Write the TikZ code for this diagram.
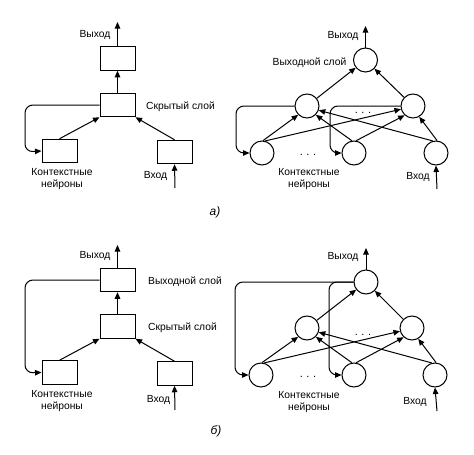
\documentclass[tikz,border=0pt]{standalone}
\usepackage{fontspec}
\setmainfont{Liberation Sans}
\usetikzlibrary{arrows.meta}
\begin{document}
\begin{tikzpicture}[x=1pt,y=-1pt,
  every node/.style={font=\fontsize{10.3}{12}\selectfont},
  box/.style={draw, line width=1pt, minimum width=35pt, minimum height=23.5pt, inner sep=0pt},
  neuron/.style={draw, circle, line width=1pt, minimum size=24pt, inner sep=0pt},
  conn/.style={line width=1pt, -{Triangle[length=6.5pt,width=5.5pt]}},
  fb/.style={conn, rounded corners=8pt},
  lbl/.style={inner sep=0pt, align=center},
  dots/.style={inner sep=0pt, font=\fontsize{11}{12}\selectfont}
]
\useasboundingbox (0,0) rectangle (474,455);

% ---------------- (a) left ----------------
\node[box] (outA) at (117.5,58.5) {};
\node[box] (hidA) at (117.5,105) {};
\node[box] (ctxA) at (59.5,151) {};
\node[box] (inA) at (174.5,152) {};
\coordinate (outAe) at (117.5,22);
\coordinate (inAs) at (175,188);
\draw[conn] (outA.north) -- (outAe);
\draw[conn] (hidA.north) -- (outA.south);
\draw[conn] (ctxA.north) -- (hidA.south west);
\draw[conn] (inA.north) -- (hidA.south east);
\draw[conn] (inAs) -- (inA.south);
\draw[fb] (hidA.west) -- (25,105) -- (25,152) -- (ctxA.west);
\node[lbl] (tOutA) at (95,35) {Выход};
\node[lbl, anchor=west] (tHidA) at (146,107) {Скрытый слой};
\node[lbl] (tCtxA) at (62,179) {Контекстные\\нейроны};
\node[lbl] (tInA) at (155.5,176) {Вход};

% ---------------- (a) right ----------------
\node[neuron] (oR) at (365.5,60) {};
\node[neuron] (hL) at (307,106) {};
\node[neuron] (hR) at (413,106) {};
\node[neuron] (bL) at (262,153) {};
\node[neuron] (bM) at (354,153) {};
\node[neuron] (bR) at (436,153) {};
\coordinate (oRe) at (365.5,26);
\coordinate (bRs) at (437,189);
\draw[conn] (oR.north) -- (oRe);
\draw[conn] (hL) -- (oR);
\draw[conn] (hR) -- (oR);
\draw[conn] (bL.85) -- (hL.225);
\draw[conn] (bL.75) -- (hR.195);
\draw[conn] (bM.100) -- (hL.-45);
\draw[conn] (bM.80) -- (hR.228);
\draw[conn] (bR.105) -- (hL.-20);
\draw[conn] (bR.85) -- (hR.-60);
\draw[conn] (bRs) -- (bR.south);
\draw[fb] (hL.west) -- (236,106) -- (236,153) -- (bL.west);
\draw[fb] (hR.west) -- (330,106) -- (330,153) -- (bM.west);
\node[dots] (d1) at (363,113) {.\,\,.\,\,.};
\node[dots] (d2) at (308,155) {.\,\,.\,\,.};
\node[lbl] (tOutR) at (343,36) {Выход};
\node[lbl] (tOL) at (309.5,63) {Выходной слой};
\node[lbl] (tCtxR) at (309,179) {Контекстные\\нейроны};
\node[lbl] (tInR) at (418,177) {Вход};
\node[lbl, font=\fontsize{12}{14}\selectfont\itshape] (ta) at (215,212) {а)};

% ---------------- (b) left ----------------
\node[box] (outB) at (117.5,280) {};
\node[box] (hidB) at (117.5,326.5) {};
\node[box] (ctxB) at (59.5,372.5) {};
\node[box] (inB) at (174.5,373.5) {};
\coordinate (outBe) at (117.5,245);
\coordinate (inBs) at (175,410);
\draw[conn] (outB.north) -- (outBe);
\draw[conn] (hidB.north) -- (outB.south);
\draw[conn] (ctxB.north) -- (hidB.south west);
\draw[conn] (inB.north) -- (hidB.south east);
\draw[conn] (inBs) -- (inB.south);
\draw[fb] (outB.west) -- (25,280) -- (25,373) -- (ctxB.west);
\node[lbl] (tOutB) at (95,256) {Выход};
\node[lbl, anchor=west] (tOLB) at (148,282) {Выходной слой};
\node[lbl, anchor=west] (tHidB) at (148,328) {Скрытый слой};
\node[lbl] (tCtxB) at (62,401) {Контекстные\\нейроны};
\node[lbl] (tInB) at (158.5,400) {Вход};

% ---------------- (b) right ----------------
\node[neuron] (oR2) at (366,282) {};
\node[neuron] (hL2) at (307,328) {};
\node[neuron] (hR2) at (412,328) {};
\node[neuron] (bL2) at (261,375) {};
\node[neuron] (bM2) at (354,375) {};
\node[neuron] (bR2) at (435,375) {};
\coordinate (oR2e) at (366,248);
\coordinate (bR2s) at (437,411);
\draw[conn] (oR2.north) -- (oR2e);
\draw[conn] (hL2) -- (oR2);
\draw[conn] (hR2) -- (oR2);
\draw[conn] (bL2.85) -- (hL2.225);
\draw[conn] (bL2.75) -- (hR2.195);
\draw[conn] (bM2.100) -- (hL2.-45);
\draw[conn] (bM2.80) -- (hR2.228);
\draw[conn] (bR2.105) -- (hL2.-20);
\draw[conn] (bR2.85) -- (hR2.-60);
\draw[conn] (bR2s) -- (bR2.south);
\draw[fb] (oR2.west) -- (235,282) -- (235,375) -- (bL2.west);
\draw[fb] (oR2.west) -- (329,282) -- (329,375) -- (bM2.west);
\node[dots] (d3) at (363,335) {.\,\,.\,\,.};
\node[dots] (d4) at (308,377) {.\,\,.\,\,.};
\node[lbl] (tOutR2) at (343,257) {Выход};
\node[lbl] (tCtxR2) at (309,402) {Контекстные\\нейроны};
\node[lbl] (tInR2) at (415,402) {Вход};
\node[lbl, font=\fontsize{12}{14}\selectfont\itshape] (tb) at (216,431) {б)};
\end{tikzpicture}
\end{document}
